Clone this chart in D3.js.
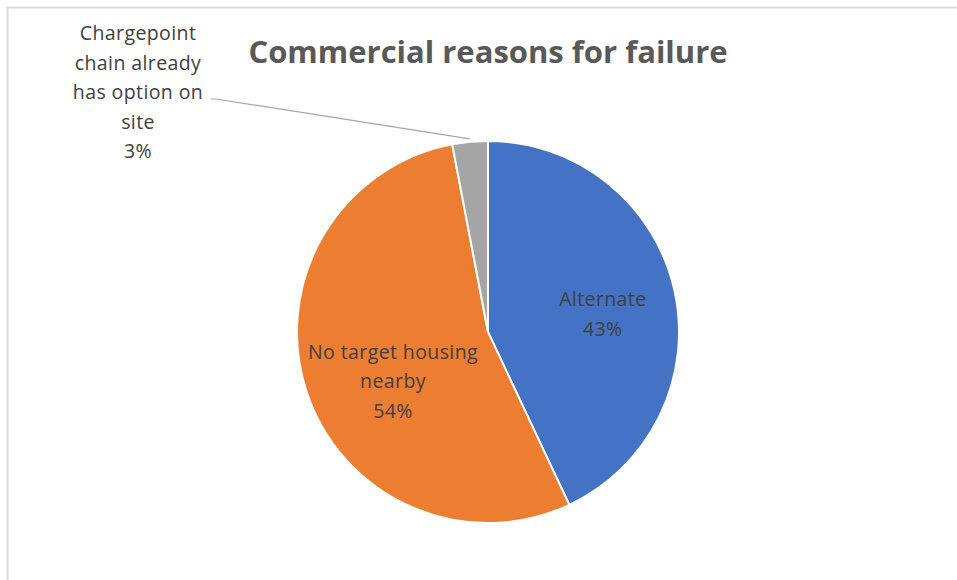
<!DOCTYPE html>
<html>
<head>
<meta charset="utf-8">
<script src="https://cdn.jsdelivr.net/npm/d3@7"></script>
<style>
  body { margin: 0; background: #fff; }
  svg { display: block; }
</style>
</head>
<body>
<div id="chart"></div>
<script>
const categories = ["Alternate", "No target housing nearby", "Chargepoint chain already has option on site"]
const values = [43, 54, 3]
const colours = ["#4472c4", "#ed7d31", "#a5a5a5"]
// label lines as they wrap in the original
const labelLines = [["Alternate"], ["No target housing", "nearby"], ["Chargepoint", "chain already", "has option on", "site"]]

const width = 957
const height = 580
const cx = 488
const cy = 332
const radius = 191

const svg = d3.select("#chart")
  .append("svg")
  .attr("width", width)
  .attr("height", height)

// chart frame (only top & left visible)
svg.append("path")
  .attr("d", `M7.5,${height} V7.5 H${width}`)
  .attr("fill", "none")
  .attr("stroke", "#d9d9d9")
  .attr("stroke-width", 2)

svg.append("text")
  .attr("x", cx)
  .attr("y", 63)
  .attr("text-anchor", "middle")
  .attr("font-family", "Open Sans, sans-serif")
  .attr("font-weight", "bold")
  .attr("font-size", "31px")
  .attr("fill", "#595959")
  .text("Commercial reasons for failure")

const data = categories.map((c, i) => ({name: c, value: values[i], lines: labelLines[i], colour: colours[i]}))
const total = d3.sum(values)

const pie = d3.pie().sort(null).value(d => d.value)
const arc = d3.arc().innerRadius(0).outerRadius(radius)
const labelArc = d3.arc().innerRadius(radius * 0.6).outerRadius(radius * 0.6)

const g = svg.append("g").attr("transform", `translate(${cx},${cy})`)
const arcs = pie(data)

g.selectAll("path.slice")
  .data(arcs)
  .enter()
  .append("path")
  .attr("class", "slice")
  .attr("d", arc)
  .attr("fill", d => d.data.colour)
  .attr("stroke", "#fff")
  .attr("stroke-width", 2)

const fontSize = 19.5
const lineH = 29.5
const textStyle = t => t
  .attr("text-anchor", "middle")
  .attr("font-family", "Open Sans, sans-serif")
  .attr("font-size", fontSize + "px")
  .attr("letter-spacing", "0.4px")
  .attr("fill", "#404040")

// small nudges so the inside labels sit where the original put them
const nudge = [[3, 7], [14, 14]]

// inside labels
arcs.slice(0, 2).forEach((d, k) => {
  const [x, y] = labelArc.centroid(d)
  const lines = d.data.lines.concat([Math.round(d.data.value / total * 100) + "%"])
  const t = textStyle(g.append("text"))
  lines.forEach((l, i) => {
    t.append("tspan")
      .attr("x", x + nudge[k][0])
      .attr("y", y + nudge[k][1] + (i - (lines.length - 1) / 2) * lineH + 7)
      .text(l)
  })
})

// outside label with leader line
const small = arcs[2]
const lx = 138 - cx
const ly = 33 - cy
const smallLines = small.data.lines.concat([Math.round(small.data.value / total * 100) + "%"])
const st = textStyle(g.append("text"))
smallLines.forEach((l, i) => {
  st.append("tspan")
    .attr("x", lx)
    .attr("y", ly + i * lineH + 7)
    .text(l)
})

const midA = (small.startAngle + small.endAngle) / 2
const endR = radius + 3
g.append("polyline")
  .attr("points", [
    [lx + 73, ly + 2 * lineH + 7],
    [lx + 78, ly + 2 * lineH + 7],
    [Math.sin(midA) * endR, -Math.cos(midA) * endR]
  ].map(p => p.join(",")).join(" "))
  .attr("fill", "none")
  .attr("stroke", "#a6a6a6")
  .attr("stroke-width", 1.2)
</script>
</body>
</html>
